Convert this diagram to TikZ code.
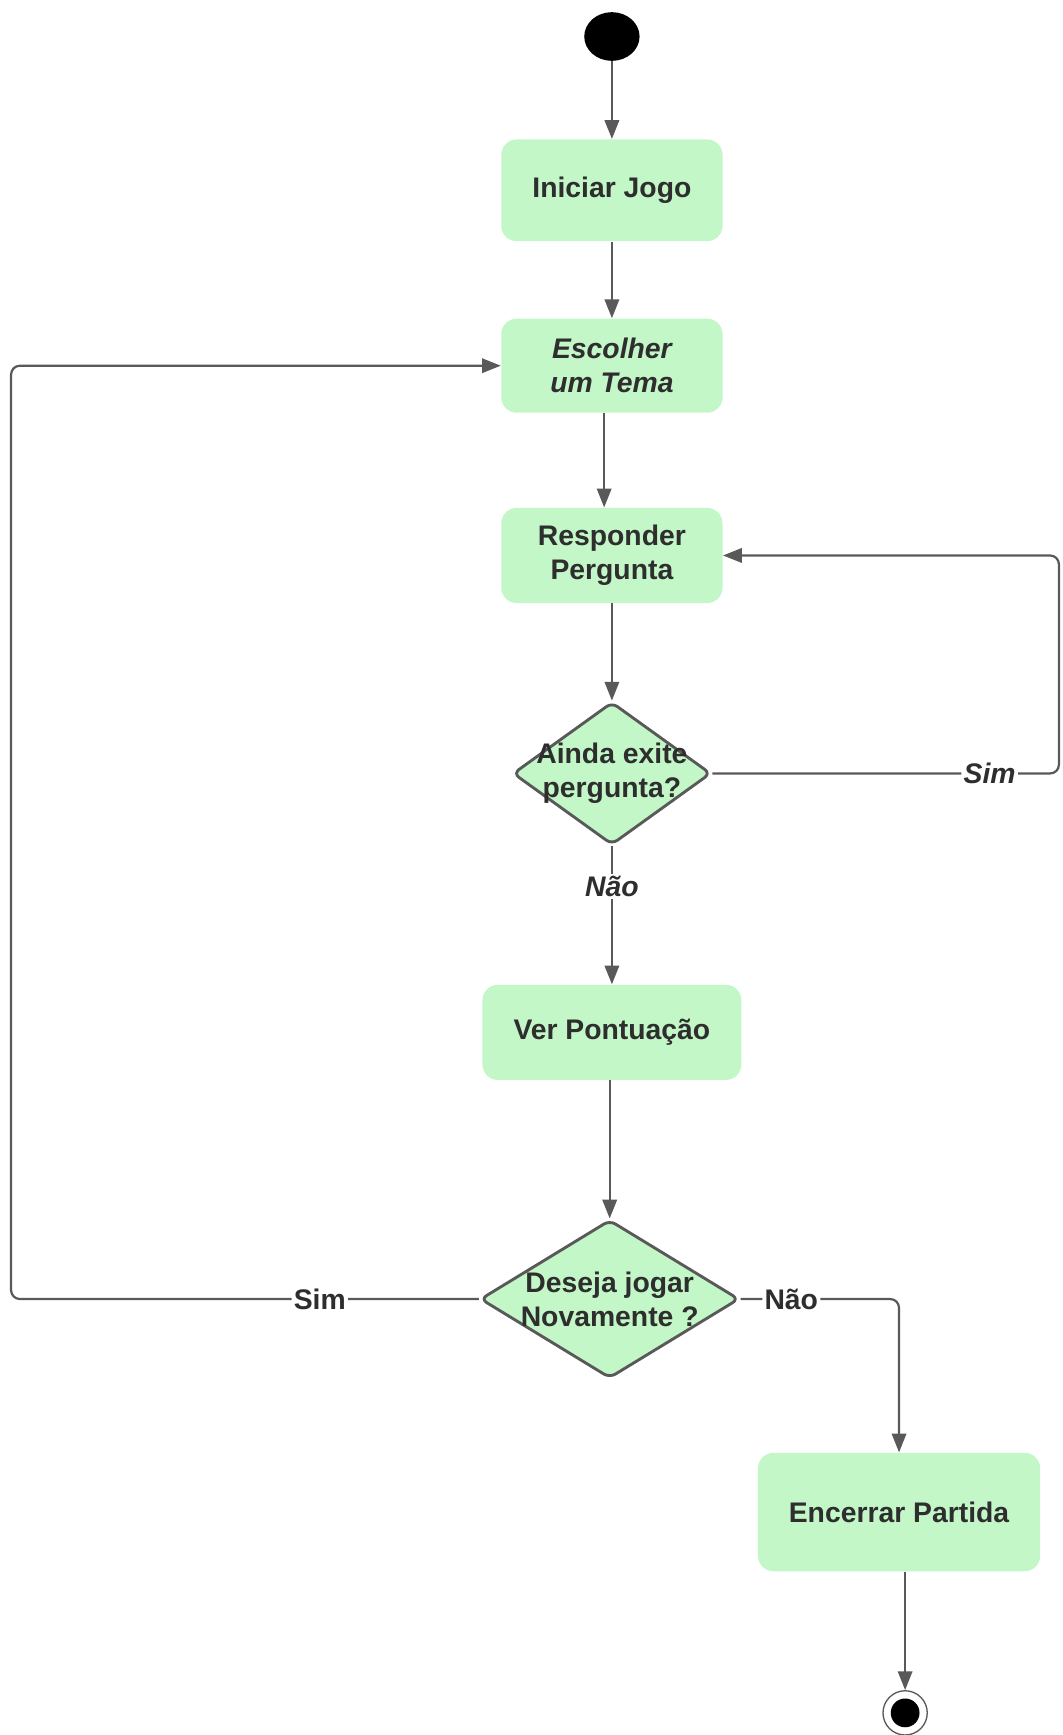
\documentclass[tikz,border=0pt]{standalone}
\usepackage{fontspec}
\setmainfont{Liberation Sans}
\usepackage{xcolor}
\usetikzlibrary{arrows.meta, shapes.geometric}
\definecolor{boxgreen}{HTML}{C3F7C8}
\definecolor{linegray}{HTML}{595959}
\definecolor{txtgray}{HTML}{2E2E2E}
\newcommand{\boxfont}{\fontsize{12.8}{15.5}\selectfont\bfseries}

\begin{document}
\begin{tikzpicture}[x=0.5pt, y=-0.5pt,
          act/.style = {rectangle, rounded corners=7pt, fill=boxgreen, text=txtgray,
                        font=\boxfont, align=center, inner sep=0pt,
                        minimum width=100pt, minimum height=44pt},
          dec/.style = {diamond, draw=linegray, line width=1.3pt, rounded corners=3pt,
                        fill=boxgreen, inner sep=0pt},
          lbl/.style = {fill=white, inner sep=1pt, text=txtgray, font=\boxfont},
          flow/.style = {draw=linegray, line width=1pt, -{Triangle[length=8.5pt,width=6.5pt]}} ]

   \useasboundingbox (0,0) rectangle (960,1568);

   \node (ini)    [ellipse, fill=black, inner sep=0pt, minimum width=25pt, minimum height=22pt] at (553,33) {};
   \node (jogo)   [act, minimum height=46pt] at (553,172) {Iniciar Jogo};
   \node (tema)   [act, minimum height=42.5pt, font=\boxfont\itshape] at (553,330.5) {Escolher\\um Tema};
   \node (resp)   [act, minimum height=43pt] at (553,502) {Responder\\Pergunta};
   \node (ainda)  [dec, minimum width=89.5pt, minimum height=64.5pt,
                   label={[text=txtgray, font=\boxfont, align=center]center:Ainda exite\\pergunta?}] at (553,699) {};
   \node (pont)   [act, minimum width=117pt, minimum height=43pt] at (553,933) {Ver Pontuação};
   \node (deseja) [dec, minimum width=117pt, minimum height=71.5pt,
                   label={[text=txtgray, font=\boxfont, align=center]center:Deseja jogar\\Novamente ?}] at (551,1174) {};
   \node (fim)    [act, minimum width=127.5pt, minimum height=53.5pt] at (812.5,1366.5) {Encerrar Partida};
   \node (fin)    [circle, draw=linegray, line width=0.6pt, fill=white, inner sep=0pt, minimum size=20pt,
                   path picture={\fill[black] (path picture bounding box.center) circle (6.5pt);}] at (818,1548) {};

   \coordinate (dir) at (957,502);
   \coordinate (esq) at (10,330);

   \draw[flow] (ini) -- (jogo);
   \draw[flow] (jogo) -- (tema);
   \draw[flow] ([xshift=-3.5pt]tema.south) -- ([xshift=-3.5pt]resp.north);
   \draw[flow] (resp) -- (ainda);
   \draw[flow] (ainda) -- node[lbl, pos=.29, font=\boxfont\itshape] {Não} (pont);
   \draw[flow, rounded corners=4pt] (ainda.east) -- node[lbl, pos=.8, font=\boxfont\itshape] {Sim}
        (ainda.east -| dir) |- (resp.east);
   \draw[flow] (pont.south -| deseja.north) -- (deseja.north);
   \draw[flow, rounded corners=4pt] (deseja.west) -- node[lbl, pos=.34] {Sim}
        (deseja.west -| esq) |- (tema.west);
   \draw[flow, rounded corners=4pt] (deseja.east) -- node[lbl, pos=.32] {Não}
        (deseja.east -| fim.north) -- (fim.north);
   \draw[flow] (fin |- fim.south) -- (fin);
\end{tikzpicture}
\end{document}
